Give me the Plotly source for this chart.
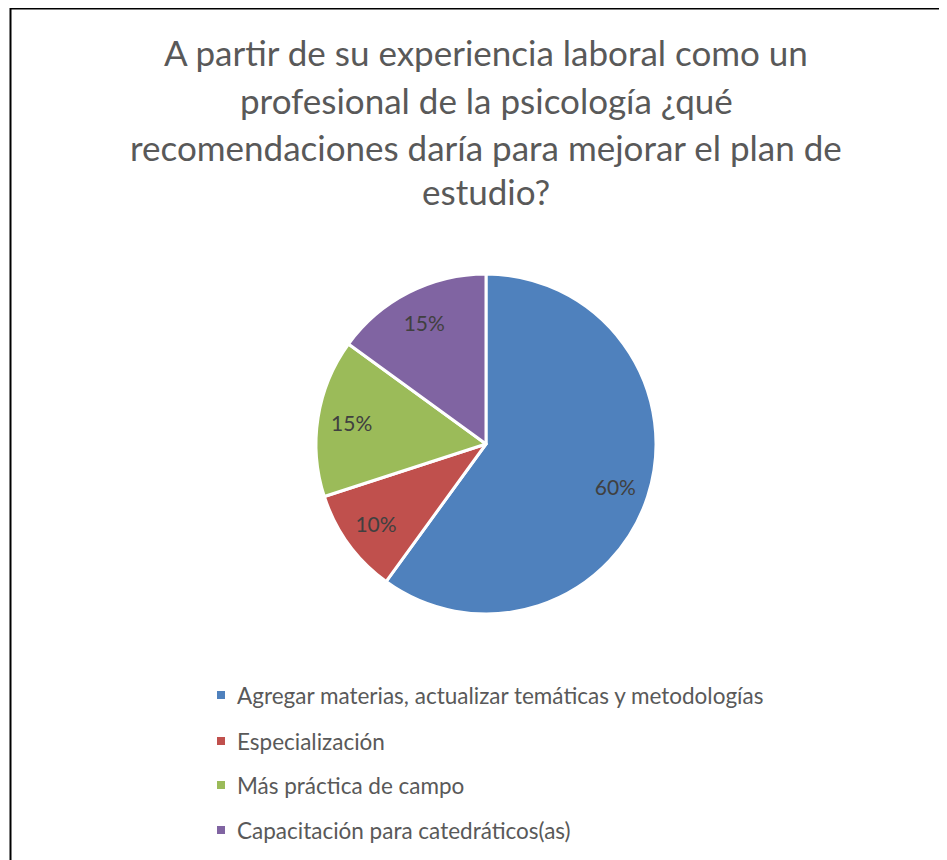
import plotly.graph_objects as go

categories = [
    "Agregar materias, actualizar temáticas y metodologías",
    "Especialización",
    "Más práctica de campo",
    "Capacitación para catedráticos(as)",
]
values = [60, 10, 15, 15]
colors = ["#4F81BD", "#C0504D", "#9BBB59", "#8064A2"]
title_lines = [
    "A partir de su experiencia laboral como un",
    "profesional de la psicología ¿qué",
    "recomendaciones daría para mejorar el plan de",
    "estudio?",
]

OFF = 8  # browser body margin
W, H = 947 - OFF, 860 - OFF
FONT = "Lato"


def px(x):
    return (x - OFF) / W


def py(y):
    return 1 - (y - OFF) / H


CX, CY, R = 486, 444, 170
dom = dict(x=[px(CX - R), px(CX + R)], y=[py(CY + R), py(CY - R)])

fig = go.Figure()
fig.add_trace(go.Pie(
    labels=categories,
    values=values,
    sort=False,
    direction="clockwise",
    rotation=0,
    marker=dict(colors=colors, line=dict(color="white", width=3)),
    textinfo="none",
    showlegend=False,
    hoverinfo="label+percent",
    domain=dom,
))
# transparent ring overlay used only to place the percentage labels at ~0.8 r
fig.add_trace(go.Pie(
    labels=categories,
    values=values,
    sort=False,
    direction="clockwise",
    rotation=0,
    hole=0.6,
    marker=dict(colors=["rgba(0,0,0,0)"] * len(values), line=dict(width=0)),
    texttemplate="%{percent:.0%}",
    textposition="inside",
    insidetextorientation="horizontal",
    textfont=dict(family=FONT, size=21, color="#404040"),
    showlegend=False,
    hoverinfo="skip",
    domain=dom,
))

annotations = []
title_y = [52, 100, 147, 191]
for line, yy in zip(title_lines, title_y):
    annotations.append(dict(
        text=line, x=px(486), y=py(yy), xref="paper", yref="paper",
        xanchor="center", yanchor="middle", showarrow=False,
        font=dict(family=FONT, size=35, color="#595959"),
    ))

shapes = [dict(type="rect", xref="paper", yref="paper",
               x0=px(10.5), x1=1.05, y0=-0.05, y1=py(8.5),
               line=dict(color="black", width=2), fillcolor="rgba(0,0,0,0)")]

legend_y = [695, 741, 785, 830]
for cat, col, yy in zip(categories, colors, legend_y):
    shapes.append(dict(type="rect", xref="paper", yref="paper",
                       x0=px(217), x1=px(225), y0=py(yy + 4), y1=py(yy - 4),
                       line=dict(width=0), fillcolor=col))
    annotations.append(dict(
        text=cat, x=px(235), y=py(yy), xref="paper", yref="paper",
        xanchor="left", yanchor="middle", showarrow=False,
        font=dict(family=FONT, size=22.5, color="#595959"),
    ))

fig.update_layout(
    width=W, height=H,
    margin=dict(l=0, r=0, t=0, b=0),
    paper_bgcolor="white", plot_bgcolor="white",
    annotations=annotations, shapes=shapes,
    showlegend=False,
)

fig.write_html("out.html")
